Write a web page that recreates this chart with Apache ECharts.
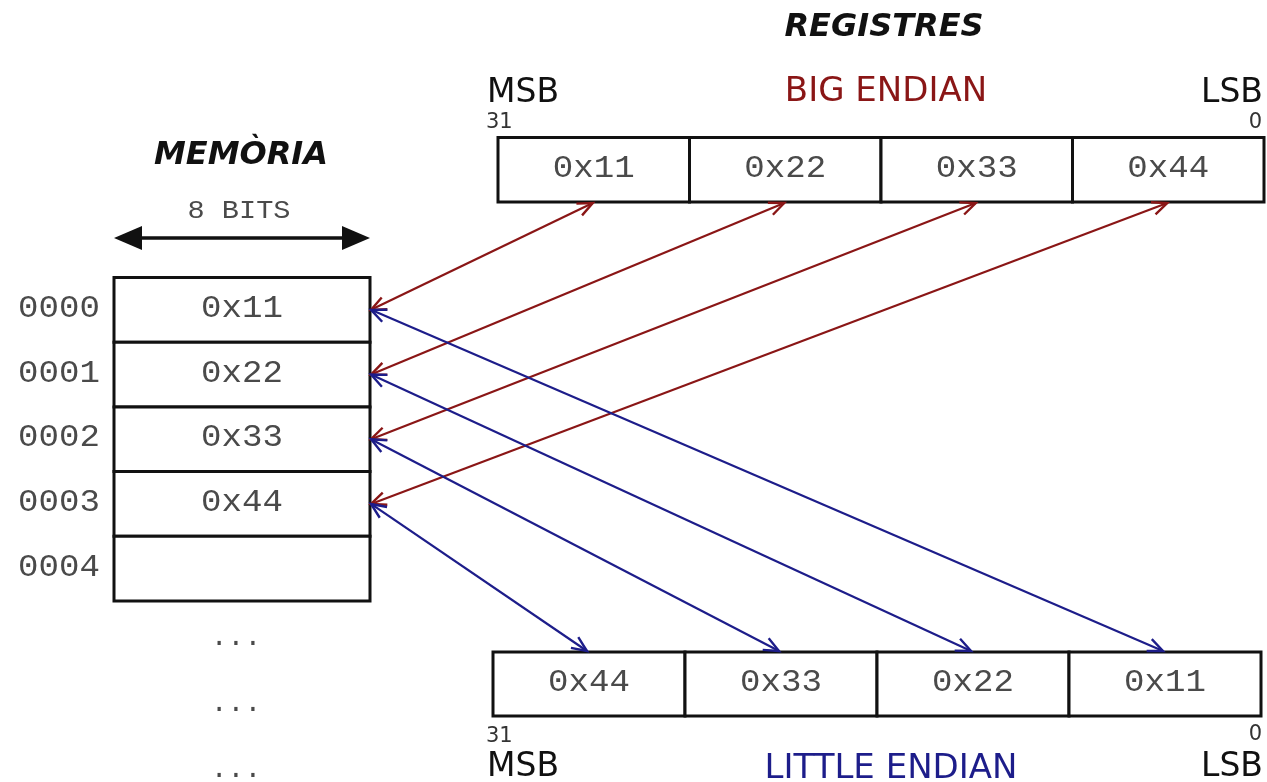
<!DOCTYPE html>
<html><head><meta charset="utf-8">
<script src="https://cdn.jsdelivr.net/npm/echarts@6/dist/echarts.min.js"></script>
<style>html,body{margin:0;padding:0;background:#fff}#c{width:1267px;height:782px}</style>
</head><body><div id="c"></div>
<script>
// ---------- data ----------
const addresses = ['0000', '0001', '0002', '0003', '0004'];
const memoryBytes = ['0x11', '0x22', '0x33', '0x44', ''];
const bigEndianBytes = ['0x11', '0x22', '0x33', '0x44'];
const littleEndianBytes = ['0x44', '0x33', '0x22', '0x11'];
const continuationRows = ['...', '...', '...'];
const titles = ['MEMÒRIA', 'REGISTRES'];
const cellWidthLabel = '8 BITS';
const endianNames = ['BIG ENDIAN', 'LITTLE ENDIAN'];
const bitNumbers = ['31', '0'];
const bitSides = ['MSB', 'LSB'];

// ---------- layout (diagram units, 1 unit = 1 px of the 1267x782 canvas) ----------
const MEM = { x0: 114, x1: 370, y0: 277.5, rowH: 64.7 };
const REG_TOP = { x0: 498, x1: 1264, y0: 137.5, y1: 202 };
const REG_BOT = { x0: 493, x1: 1261, y0: 652, y1: 716 };
const RED = '#8a1616', BLUE = '#1d1d8a', INK = '#111', MONO_INK = '#4a4a4a';
const MONO = '"Liberation Mono", "DejaVu Sans Mono", monospace';
const SANS = '"DejaVu Sans", Verdana, sans-serif';

function monoText(x, y, text, size, align, sx) {
  return { type: 'text', x, y, scaleX: sx || 1.1,
    style: { text, x: 0, y: 0, fill: MONO_INK, fontFamily: MONO, fontSize: size,
      align: align || 'center', verticalAlign: 'middle' } };
}
function sansText(x, y, text, size, color, align, bold) {
  return { type: 'text', style: { text, x, y, fill: color, fontFamily: SANS, fontSize: size,
    fontWeight: bold ? 'bold' : 'normal', fontStyle: bold ? 'italic' : 'normal',
    align: align || 'center', verticalAlign: 'middle' } };
}
function vHead(api, tip, from, color) {
  const a = api.coord(tip), b = api.coord(from);
  const dx = a[0] - b[0], dy = a[1] - b[1], len = Math.hypot(dx, dy);
  const ux = dx / len, uy = dy / len, nx = -uy, ny = ux, L = 15, W = 6.5;
  return { type: 'polyline', shape: { points: [
    [a[0] - ux * L + nx * W, a[1] - uy * L + ny * W], a,
    [a[0] - ux * L - nx * W, a[1] - uy * L - ny * W]] },
    style: { stroke: color, lineWidth: 2.4, fill: null } };
}
function regCell(R, i) {
  const w = (R.x1 - R.x0) / 4;
  return { x: R.x0 + i * w, w, cx: R.x0 + (i + 0.5) * w };
}

// memory cells
const memorySeries = {
  type: 'custom', coordinateSystem: 'cartesian2d', clip: false,
  data: addresses.map((a, i) => [i, a, memoryBytes[i]]),
  renderItem(params, api) {
    const i = params.dataIndex;
    const tl = api.coord([MEM.x0, MEM.y0 + i * MEM.rowH]);
    const br = api.coord([MEM.x1, MEM.y0 + (i + 1) * MEM.rowH]);
    const cy = (tl[1] + br[1]) / 2;
    const lbl = api.coord([59, MEM.y0 + (i + 0.5) * MEM.rowH]);
    return { type: 'group', children: [
      { type: 'rect', shape: { x: tl[0], y: tl[1], width: br[0] - tl[0], height: br[1] - tl[1] },
        style: { fill: '#fff', stroke: INK, lineWidth: 3 } },
      monoText((tl[0] + br[0]) / 2, cy - 1, memoryBytes[i], 31),
      monoText(lbl[0], lbl[1] - 1, addresses[i], 31)
    ] };
  }
};

function registerSeries(R, bytes) {
  return {
    type: 'custom', coordinateSystem: 'cartesian2d', clip: false,
    data: bytes.map((b, i) => [i, b]),
    renderItem(params, api) {
      const c = regCell(R, params.dataIndex);
      const tl = api.coord([c.x, R.y0]), br = api.coord([c.x + c.w, R.y1]);
      return { type: 'group', children: [
        { type: 'rect', shape: { x: tl[0], y: tl[1], width: br[0] - tl[0], height: br[1] - tl[1] },
          style: { fill: '#fff', stroke: INK, lineWidth: 3 } },
        monoText((tl[0] + br[0]) / 2, (tl[1] + br[1]) / 2 - 1, bytes[params.dataIndex], 31)
      ] };
    }
  };
}

// arrows: memory row i <-> register byte holding the same value
function arrowSeries(bytes, R, toTop, color) {
  return {
    type: 'custom', coordinateSystem: 'cartesian2d', clip: false, z: 5,
    data: memoryBytes.filter(b => b).map((b, i) => [i, bytes.indexOf(b)]),
    renderItem(params, api) {
      const row = api.value(0), idx = api.value(1);
      const p1 = [MEM.x1 + 1, MEM.y0 + (row + 0.5) * MEM.rowH];
      const p2 = [regCell(R, idx).cx - (toTop ? 1 : 2), toTop ? R.y1 + 1 : R.y0 - 1];
      const a = api.coord(p1), b = api.coord(p2);
      return { type: 'group', children: [
        { type: 'line', shape: { x1: a[0], y1: a[1], x2: b[0], y2: b[1] },
          style: { stroke: color, lineWidth: 2.2 } },
        vHead(api, p1, p2, color), vHead(api, p2, p1, color)
      ] };
    }
  };
}

// labels / annotations
const annotationSeries = {
  type: 'custom', coordinateSystem: 'cartesian2d', clip: false,
  data: [0],
  renderItem(params, api) {
    const P = (x, y) => api.coord([x, y]);
    const ch = [];
    let p;
    p = P(241, 156); ch.push(sansText(p[0], p[1], titles[0], 32, INK, 'center', true));
    p = P(884, 28); ch.push(sansText(p[0], p[1], titles[1], 32, INK, 'center', true));
    p = P(239, 211); ch.push(monoText(p[0], p[1], cellWidthLabel, 26, 'center', 1.1));
    // double arrow 8 BITS
    const a = P(MEM.x0, 238), b = P(MEM.x1, 238);
    ch.push({ type: 'line', shape: { x1: a[0] + 20, y1: a[1], x2: b[0] - 20, y2: b[1] }, style: { stroke: INK, lineWidth: 3.5 } });
    ch.push({ type: 'polygon', shape: { points: [[a[0], a[1]], [a[0] + 28, a[1] - 12], [a[0] + 28, a[1] + 12]] }, style: { fill: INK } });
    ch.push({ type: 'polygon', shape: { points: [[b[0], b[1]], [b[0] - 28, b[1] - 12], [b[0] - 28, b[1] + 12]] }, style: { fill: INK } });
    // top register annotations
    p = P(487, 93); ch.push(sansText(p[0], p[1], bitSides[0], 33, INK, 'left'));
    p = P(1263, 93); ch.push(sansText(p[0], p[1], bitSides[1], 33, INK, 'right'));
    p = P(886, 92); ch.push(sansText(p[0], p[1], endianNames[0], 34, RED));
    p = P(486, 123); ch.push(sansText(p[0], p[1], bitNumbers[0], 21, '#333', 'left'));
    p = P(1262, 123); ch.push(sansText(p[0], p[1], bitNumbers[1], 21, '#333', 'right'));
    // bottom register annotations
    p = P(486, 737); ch.push(sansText(p[0], p[1], bitNumbers[0], 21, '#333', 'left'));
    p = P(1262, 735); ch.push(sansText(p[0], p[1], bitNumbers[1], 21, '#333', 'right'));
    p = P(487, 767); ch.push(sansText(p[0], p[1], bitSides[0], 33, INK, 'left'));
    p = P(1263, 767); ch.push(sansText(p[0], p[1], bitSides[1], 33, INK, 'right'));
    p = P(891, 769); ch.push(sansText(p[0], p[1], endianNames[1], 34, BLUE));
    // continuation dots
    continuationRows.forEach((d, k) => {
      p = P(236, 638 + k * 66); ch.push(monoText(p[0], p[1], d, 28, 'center', 1.0));
    });
    return { type: 'group', children: ch };
  }
};

const chart = echarts.init(document.getElementById('c'), null, { renderer: 'canvas' });
chart.setOption({
  animation: false,
  backgroundColor: '#fff',
  grid: { left: 0, right: 0, top: 0, bottom: 0 },
  xAxis: { type: 'value', min: 0, max: 1267, show: false },
  yAxis: { type: 'value', min: 0, max: 782, inverse: true, show: false },
  series: [
    annotationSeries,
    memorySeries,
    registerSeries(REG_TOP, bigEndianBytes),
    registerSeries(REG_BOT, littleEndianBytes),
    arrowSeries(bigEndianBytes, REG_TOP, true, RED),
    arrowSeries(littleEndianBytes, REG_BOT, false, BLUE)
  ]
});
</script></body></html>
